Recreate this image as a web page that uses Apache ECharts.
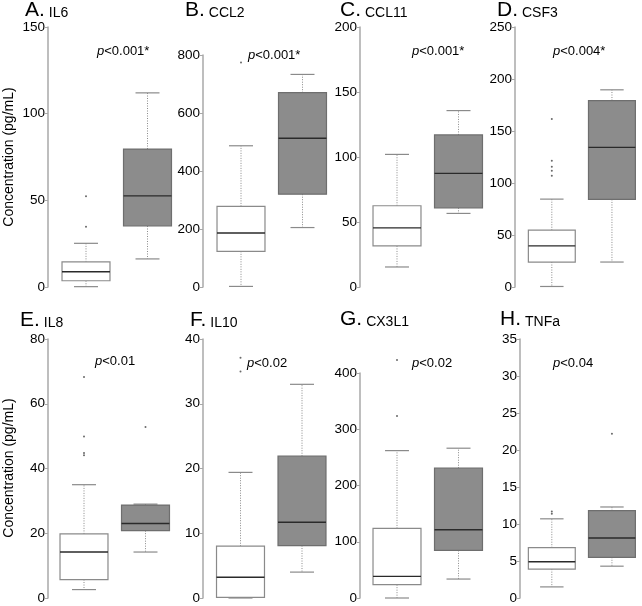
<!DOCTYPE html>
<html>
<head>
<meta charset="utf-8">
<script src="https://cdn.jsdelivr.net/npm/echarts@6/dist/echarts.min.js"></script>
<style>html,body{margin:0;padding:0;background:#fff}#c{width:642px;height:606px}</style>
</head>
<body>
<div id="c"></div>
<script>
// ---- data ----
const panelLetters = ['A.', 'B.', 'C.', 'D.', 'E.', 'F.', 'G.', 'H.'];
const analytes = ['IL6', 'CCL2', 'CCL11', 'CSF3', 'IL8', 'IL10', 'CX3L1', 'TNFa'];
const pValues = ['<0.001*', '<0.001*', '<0.001*', '<0.004*', '<0.01', '<0.02', '<0.02', '<0.04'];
const groups = ['Control', 'Case'];
const yMax = [150, 800, 200, 250, 80, 40, 400, 35];
const yInterval = [50, 200, 50, 50, 20, 10, 100, 5];
// box stats: [low whisker, Q1, median, Q3, high whisker]
const whiteBoxes = [
  [0.2, 3.6, 8.8, 14.5, 25.2],
  [2, 123, 186, 278, 487],
  [15.4, 31.6, 45.5, 62.5, 102],
  [0.5, 24, 39.5, 54.6, 84.5],
  [2.6, 5.7, 14.2, 19.8, 35],
  [0, 0.1, 3.2, 8, 19.4],
  [0, 23.7, 38.5, 123.7, 262],
  [1.5, 3.9, 4.9, 6.8, 10.7]
];
const grayBoxes = [
  [16.2, 35.2, 52.6, 79.6, 112],
  [205, 320, 513, 670, 733],
  [56.6, 60.9, 87.4, 117, 135.7],
  [24, 84.2, 134.3, 179.3, 189.6],
  [14.2, 20.8, 23, 28.7, 29],
  [4, 8.1, 11.7, 21.9, 33],
  [33.7, 84.6, 121.3, 230.8, 266.3],
  [4.3, 5.5, 8.1, 11.8, 12.3]
];
const whiteOutliers = [
  [34.8, 52.3],
  [774],
  [],
  [107, 111.8, 115.7, 121.5, 161.6],
  [44.1, 44.8, 49.9, 68.3],
  [35, 37.1],
  [323.7, 423],
  [11.4, 11.7]
];
const grayOutliers = [
  [],
  [],
  [],
  [],
  [52.8],
  [],
  [],
  [22.2]
];

// ---- layout ----
const axisX = [48, 203, 360, 515, 48, 203, 360, 520];
const whiteCenter = [86, 241, 397, 552.5, 84, 240.5, 397, 552.5];
const gridTop = [27, 55, 27, 27, 339, 339, 373, 339];
const gridBottomY = [287, 287, 287, 287, 598, 598, 598, 598];
const pTextX = [97, 248, 412, 553, 95, 247, 412, 553];
const pTextY = [53, 57, 53, 53, 363, 365, 365, 365];
const titleX = [25, 185, 340, 497, 20, 190, 340, 500];
const titleY = [12, 12, 12, 12, 322, 322, 321, 321];
const band = 61.5;

const FONT = 'Liberation Sans, Arial, sans-serif';

function renderBox(params, api) {
  const xi = api.value(0);
  const low = api.coord([xi, api.value(1)]);
  const q1 = api.coord([xi, api.value(2)]);
  const med = api.coord([xi, api.value(3)]);
  const q3 = api.coord([xi, api.value(4)]);
  const high = api.coord([xi, api.value(5)]);
  const bw = api.size([1, 0])[0];
  const hw = bw * 0.39;
  const cw = hw * 0.5;
  const cx = low[0];
  const gray = xi === 1;
  const whiskerStyle = { stroke: '#8a8a8a', lineWidth: 1, lineDash: [1, 1.5] };
  const capStyle = { stroke: '#8a8a8a', lineWidth: 1.2 };
  return {
    type: 'group',
    children: [
      { type: 'line', shape: { x1: cx, y1: q3[1], x2: cx, y2: high[1] }, style: whiskerStyle },
      { type: 'line', shape: { x1: cx, y1: q1[1], x2: cx, y2: low[1] }, style: whiskerStyle },
      { type: 'line', shape: { x1: cx - cw, y1: high[1], x2: cx + cw, y2: high[1] }, style: capStyle },
      { type: 'line', shape: { x1: cx - cw, y1: low[1], x2: cx + cw, y2: low[1] }, style: capStyle },
      { type: 'rect', shape: { x: cx - hw, y: q3[1], width: 2 * hw, height: q1[1] - q3[1] },
        style: { fill: gray ? '#8c8c8c' : '#ffffff', stroke: gray ? '#6e6e6e' : '#8a8a8a', lineWidth: 1.2 } },
      { type: 'line', shape: { x1: cx - hw, y1: med[1], x2: cx + hw, y2: med[1] },
        style: { stroke: '#2a2a2a', lineWidth: 1.4 } }
    ]
  };
}

const grids = [], xAxes = [], yAxes = [], series = [], graphics = [];
for (let i = 0; i < 8; i++) {
  const left = whiteCenter[i] - band / 2;
  grids.push({ left: left, top: gridTop[i], width: band * 2, height: gridBottomY[i] - gridTop[i] });
  xAxes.push({ gridIndex: i, type: 'category', data: groups, show: false, boundaryGap: true });
  yAxes.push({
    gridIndex: i, type: 'value', min: 0, max: yMax[i], interval: yInterval[i],
    offset: left - axisX[i],
    splitLine: { show: false },
    axisLine: { show: true, lineStyle: { color: '#a8a8a8', width: 1.5 } },
    axisTick: { show: true, length: 3, lineStyle: { color: '#a8a8a8', width: 1 } },
    axisLabel: { fontSize: 13.5, color: '#000', margin: 3, fontFamily: FONT }
  });
  series.push({
    type: 'custom', xAxisIndex: i, yAxisIndex: i, renderItem: renderBox,
    encode: { x: 0, y: [1, 2, 3, 4, 5] },
    data: [[0].concat(whiteBoxes[i]), [1].concat(grayBoxes[i])],
    clip: false, silent: true
  });
  const pts = whiteOutliers[i].map(v => [0, v]).concat(grayOutliers[i].map(v => [1, v]));
  series.push({
    type: 'scatter', xAxisIndex: i, yAxisIndex: i, data: pts, symbolSize: 2,
    itemStyle: { color: '#444' }, clip: false, silent: true
  });
  graphics.push({
    type: 'text', left: titleX[i], top: titleY[i] - 12,
    style: {
      text: '{a|' + panelLetters[i] + '}{b|' + analytes[i] + '}',
      rich: {
        a: { fontSize: 21, fontFamily: FONT, fill: '#000', verticalAlign: 'bottom' },
        b: { fontSize: 14, fontFamily: FONT, fill: '#000', padding: [0, 0, 1, 4], verticalAlign: 'bottom' }
      }
    }
  });
  graphics.push({
    type: 'text', left: pTextX[i], top: pTextY[i] - 8,
    style: {
      text: '{p|p}{n|' + pValues[i] + '}',
      rich: {
        p: { fontSize: 13, fontStyle: 'italic', fontFamily: FONT, fill: '#000' },
        n: { fontSize: 13, fontFamily: FONT, fill: '#000' }
      }
    }
  });
}
['top', 'bottom'].forEach((r, k) => {
  graphics.push({
    type: 'text', x: 9, y: k === 0 ? 157 : 468, rotation: Math.PI / 2,
    style: { text: 'Concentration (pg/mL)', fontSize: 14, fontFamily: FONT, fill: '#000', align: 'center', verticalAlign: 'middle' }
  });
});

const chart = echarts.init(document.getElementById('c'), null, { renderer: 'canvas' });
chart.setOption({
  animation: false,
  backgroundColor: '#fff',
  grid: grids, xAxis: xAxes, yAxis: yAxes, series: series, graphic: graphics
});
</script>
</body>
</html>
